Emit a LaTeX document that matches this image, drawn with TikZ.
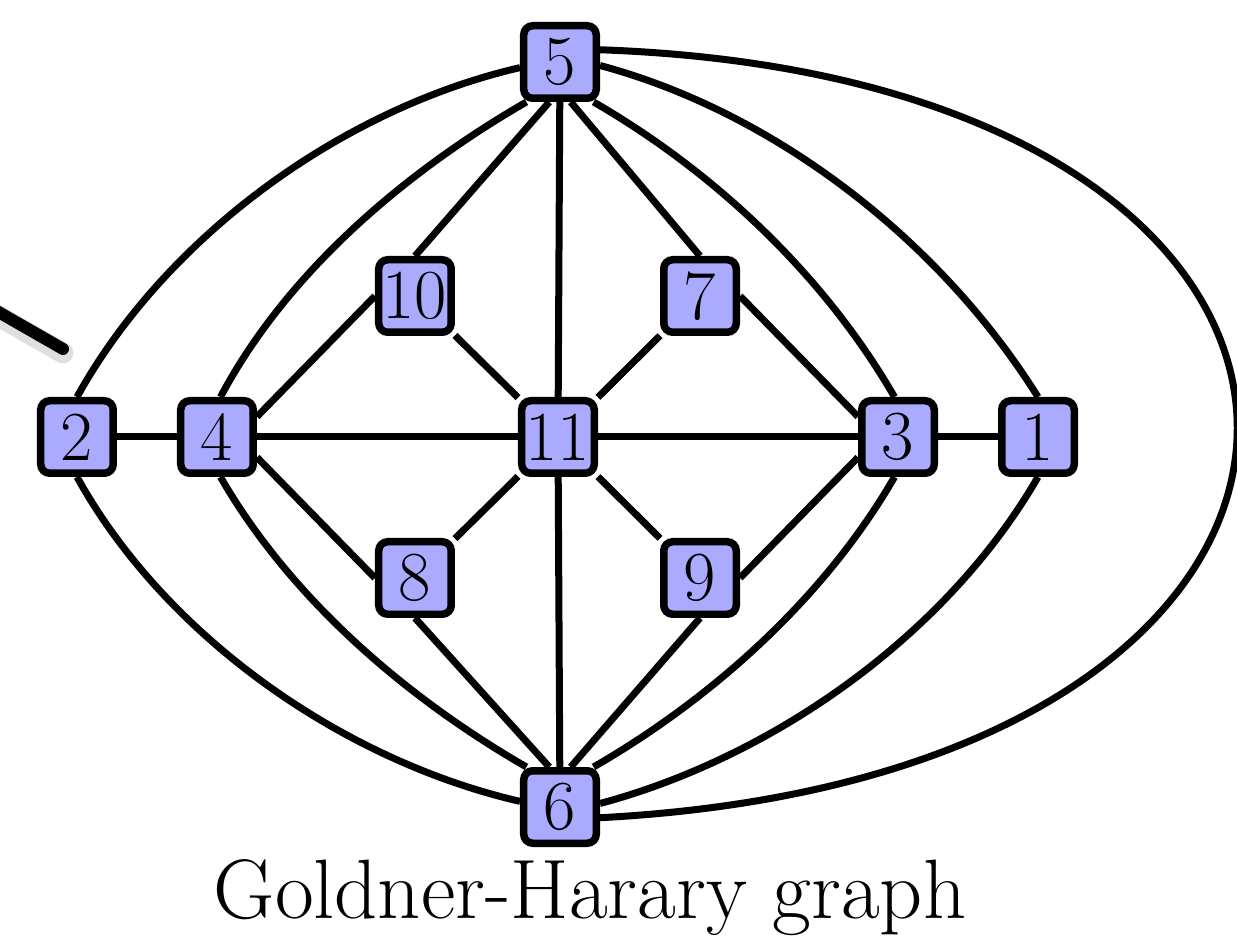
\documentclass[tikz,border=0pt]{standalone}
\usepackage{xcolor}
\usetikzlibrary{backgrounds}

\definecolor{vertfill}{RGB}{170,170,255}

\begin{document}
\begin{tikzpicture}[x=1cm,y=1cm,
    vert/.style={draw,line width=0.15cm,fill=vertfill,rounded corners=0.18cm,
                 minimum size=1.45cm,inner sep=0pt,font=\fontsize{40}{44}\selectfont},
    edge/.style={line width=0.14cm}]
\useasboundingbox (-11.16,-10.2) rectangle (13.58,8.74);

    % inner vertices
    \node[vert] (v11) at ( 0.00, 0.00) {11};
    \node[vert] (v10) at (-2.86, 2.82) {10};
    \node[vert] (v7)  at ( 2.84, 2.82) {7};
    \node[vert] (v8)  at (-2.86,-2.82) {8};
    \node[vert] (v9)  at ( 2.84,-2.82) {9};

    % outer vertices
    \node[vert] (v5)  at ( 0.04, 7.50) {5};
    \node[vert] (v6)  at ( 0.04,-7.40) {6};
    \node[vert] (v2)  at (-9.62, 0.00) {2};
    \node[vert] (v4)  at (-6.82, 0.00) {4};
    \node[vert] (v3)  at ( 6.80, 0.00) {3};
    \node[vert] (v1)  at ( 9.60, 0.00) {1};

    \node[anchor=base,font=\fontsize{48}{52}\selectfont] (title) at (0.64,-9.62) {Goldner-Harary graph};

\begin{scope}[on background layer]
    % straight edges
    \draw[edge] (v5.-105) -- (v10.north);
    \draw[edge] (v5) -- (v11);
    \draw[edge] (v5.-75) -- (v7.north);
    \draw[edge] (v10) -- (v11);
    \draw[edge] (v7) -- (v11);
    \draw[edge] (v10.west) -- (v4.27);
    \draw[edge] (v7.east) -- (v3.153);
    \draw[edge] (v2) -- (v4);
    \draw[edge] (v4) -- (v11);
    \draw[edge] (v11) -- (v3);
    \draw[edge] (v3) -- (v1);
    \draw[edge] (v4.-27) -- (v8.west);
    \draw[edge] (v9.east) -- (v3.-153);
    \draw[edge] (v11) -- (v8);
    \draw[edge] (v11) -- (v9);
    \draw[edge] (v11) -- (v6);
    \draw[edge] (v8.south) -- (v6.105);
    \draw[edge] (v9.south) -- (v6.75);

    % curved edges
    \draw[edge] (v5.188) to[out=193,in=61,looseness=0.85] (v2.north);
    \draw[edge] (v5.230) to[out=210,in=62,looseness=0.85] (v4.85);
    \draw[edge] (v5.-50) to[out=-30,in=120,looseness=0.85] (v3.95);
    \draw[edge] (v5.-5) to[out=-15,in=122,looseness=0.85] (v1.north);
    \draw[edge] (v5.17) to[out=-2,in=3,looseness=2.84] (v6.-15);
    \draw[edge] (v2.south) to[out=-61,in=167,looseness=0.85] (v6.172);
    \draw[edge] (v4.-85) to[out=-60,in=150,looseness=0.85] (v6.130);
    \draw[edge] (v3.-95) to[out=240,in=30,looseness=0.85] (v6.50);
    \draw[edge] (v1.south) to[out=240,in=15,looseness=0.85] (v6.5);
\end{scope}

    % pointer stroke coming in from the left
    \coordinate (ptra) at (-11.40,2.62);
    \coordinate (ptrb) at (-9.90,1.76);
    \draw[line width=0.42cm,line cap=round,black!25,opacity=0.5] ([yshift=-0.08cm]ptra) -- ([yshift=-0.08cm]ptrb);
    \draw[line width=0.24cm,line cap=round] (ptra) -- (ptrb);

\end{tikzpicture}
\end{document}
